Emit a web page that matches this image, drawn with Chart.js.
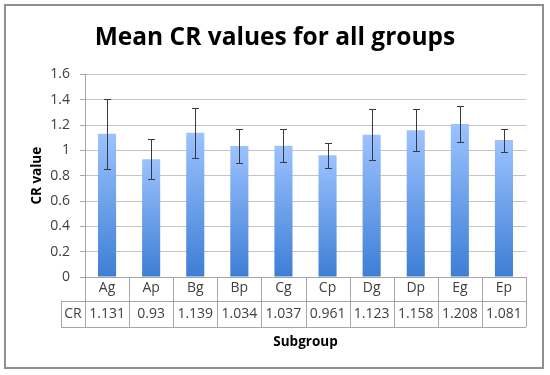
<!DOCTYPE html>
<html>
<head>
<meta charset="utf-8">
<script src="https://cdn.jsdelivr.net/npm/chart.js@4/dist/chart.umd.min.js"></script>
<style>
  body { margin: 0; background: #fff; }
  #wrap { width: 550px; height: 375px; }
</style>
</head>
<body>
<div id="wrap"><canvas id="myChart" width="550" height="375"></canvas></div>
<script>
// dữ liệu biểu đồ
const subgroups = ['Ag', 'Ap', 'Bg', 'Bp', 'Cg', 'Cp', 'Dg', 'Dp', 'Eg', 'Ep'];
const crValues = [1.131, 0.93, 1.139, 1.034, 1.037, 0.961, 1.123, 1.158, 1.208, 1.081];
const crErrors = [0.278, 0.16, 0.197, 0.132, 0.128, 0.1, 0.2, 0.165, 0.14, 0.09];
const crLabels = ['1.131', '0.93', '1.139', '1.034', '1.037', '0.961', '1.123', '1.158', '1.208', '1.081'];
const yTicks = [0, 0.2, 0.4, 0.6, 0.8, 1, 1.2, 1.4, 1.6];

const FONT = 'Open Sans';
const lineColor = '#a6a6a6';

// khung viền ngoài
const framePlugin = {
    id: 'frame',
    beforeDraw(chart) {
        const c = chart.ctx;
        c.save();
        c.fillStyle = '#fff';
        c.fillRect(0, 0, chart.width, chart.height);
        c.strokeStyle = '#8f8f8f';
        c.lineWidth = 2;
        c.strokeRect(5, 5, 538, 363);
        c.restore();
    }
};

// thanh sai số
const errorBarPlugin = {
    id: 'errorBars',
    afterDatasetsDraw(chart) {
        const c = chart.ctx;
        const y = chart.scales.y;
        const meta = chart.getDatasetMeta(0);
        c.save();
        c.strokeStyle = '#3a3a3a';
        c.lineWidth = 1;
        meta.data.forEach((bar, i) => {
            const x = Math.round(bar.x) + 0.5;
            const top = Math.round(y.getPixelForValue(crValues[i] + crErrors[i])) + 0.5;
            const bot = Math.round(y.getPixelForValue(crValues[i] - crErrors[i])) + 0.5;
            c.beginPath();
            c.moveTo(x, top); c.lineTo(x, bot);
            c.moveTo(x - 3.5, top); c.lineTo(x + 3.5, top);
            c.moveTo(x - 3.5, bot); c.lineTo(x + 3.5, bot);
            c.stroke();
        });
        c.restore();
    }
};

// bảng dữ liệu dưới trục x
const dataTablePlugin = {
    id: 'dataTable',
    afterDraw(chart) {
        const c = chart.ctx;
        const x = chart.scales.x;
        const area = chart.chartArea;
        const half = (x.getPixelForValue(1) - x.getPixelForValue(0)) / 2;
        const row1 = area.bottom;
        const row2 = row1 + 24;
        const row3 = row2 + 26;
        const labelLeft = 61;
        c.save();
        c.strokeStyle = lineColor;
        c.lineWidth = 1;
        c.beginPath();
        for (let i = 0; i <= subgroups.length; i++) {
            const px = Math.round(x.getPixelForValue(i) - half) + 0.5;
            c.moveTo(px, row1); c.lineTo(px, row3);
        }
        c.moveTo(labelLeft + 0.5, row2); c.lineTo(labelLeft + 0.5, row3);
        c.moveTo(labelLeft, row2 + 0.5); c.lineTo(area.right, row2 + 0.5);
        c.moveTo(labelLeft, row3 + 0.5); c.lineTo(area.right, row3 + 0.5);
        c.stroke();

        c.fillStyle = '#404040';
        c.font = '14px "' + FONT + '"';
        c.textAlign = 'center';
        c.textBaseline = 'middle';
        const my = (row2 + row3) / 2;
        c.fillText('CR', (labelLeft + area.left) / 2, my);
        crLabels.forEach((t, i) => {
            c.fillText(t, x.getPixelForValue(i), my);
        });
        c.restore();
    }
};

const ctx = document.getElementById('myChart');

new Chart(ctx, {
    type: 'bar',
    data: {
        labels: subgroups,
        datasets: [{
            label: 'CR',
            data: crValues,
            backgroundColor: function (context) {
                const chart = context.chart;
                const area = chart.chartArea;
                if (!area || context.type !== 'data') return '#6fa3ea';
                const top = chart.scales.y.getPixelForValue(context.raw);
                const g = chart.ctx.createLinearGradient(0, top, 0, area.bottom);
                g.addColorStop(0, '#9cc2ff');
                g.addColorStop(1, '#3d7ed5');
                return g;
            },
            borderWidth: 0,
            categoryPercentage: 1,
            barPercentage: 0.41
        }]
    },
    options: {
        responsive: false,
        animation: false,
        layout: {
            padding: { left: 12, right: 12, top: 0, bottom: 0 }
        },
        plugins: {
            legend: { display: false },
            tooltip: { enabled: false },
            title: {
                display: true,
                text: 'Mean CR values for all groups',
                color: '#000',
                font: { family: FONT, size: 24.5, weight: 'bold' },
                padding: { top: 23, bottom: 22 }
            }
        },
        scales: {
            x: {
                afterFit: (scale) => { scale.height = 98; },
                grid: { display: false, drawTicks: false },
                border: { display: true, color: lineColor },
                ticks: {
                    color: '#404040',
                    font: { family: FONT, size: 14 },
                    padding: 3,
                    maxRotation: 0
                },
                title: {
                    display: true,
                    text: 'Subgroup',
                    color: '#000',
                    font: { family: FONT, size: 13.5, weight: 'bold' },
                    padding: { top: 0, bottom: 25 }
                }
            },
            y: {
                min: 0,
                max: 1.6,
                afterFit: (scale) => { scale.width = 73; },
                afterBuildTicks: (scale) => {
                    scale.ticks = yTicks.map((v) => ({ value: v }));
                },
                grid: {
                    color: '#c4c4c4',
                    tickLength: 5,
                    tickColor: lineColor
                },
                border: { display: true, color: lineColor },
                ticks: {
                    color: '#404040',
                    font: { family: FONT, size: 14 },
                    padding: 10,
                    callback: (v) => String(+Number(v).toFixed(1))
                },
                title: {
                    display: true,
                    text: 'CR value',
                    color: '#000',
                    font: { family: FONT, size: 13.5, weight: 'bold' },
                    padding: { top: 17, bottom: 0 }
                }
            },
            // trục phụ bên phải, chỉ để chừa khoảng trống
            yRight: {
                position: 'right',
                min: 0,
                max: 1.6,
                afterFit: (scale) => { scale.width = 12; },
                grid: { display: false, drawTicks: false },
                border: { display: false },
                ticks: { display: false }
            }
        }
    },
    plugins: [framePlugin, errorBarPlugin, dataTablePlugin]
});
</script>
</body>
</html>
